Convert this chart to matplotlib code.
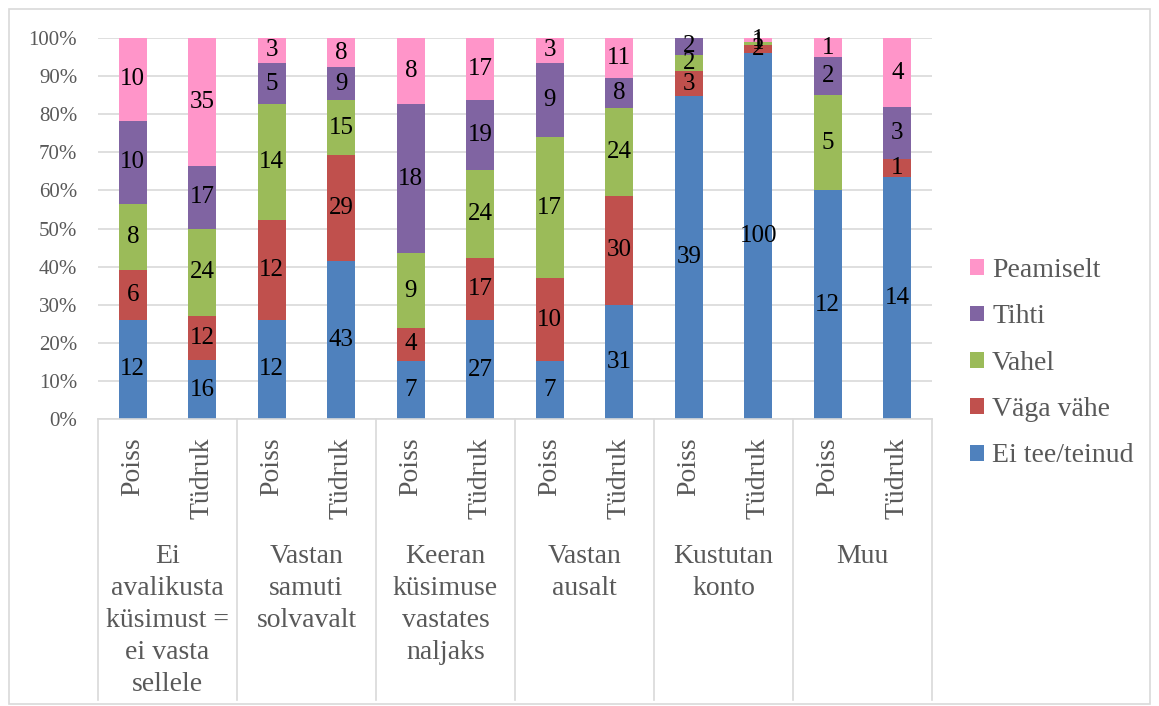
"""Stacked 100% bar chart: reactions to offensive questions, by gender."""

import numpy as np
import matplotlib.pyplot as plt
from matplotlib.patches import Rectangle

plt.rcParams["font.family"] = "serif"
plt.rcParams["font.serif"] = ["Liberation Serif", "Times New Roman", "DejaVu Serif"]

GROUPS = [
    "Ei\navalikusta\nküsimust =\nei vasta\nsellele",
    "Vastan\nsamuti\nsolvavalt",
    "Keeran\nküsimuse\nvastates\nnaljaks",
    "Vastan\nausalt",
    "Kustutan\nkonto",
    "Muu",
]
GENDERS = ["Poiss", "Tüdruk"]

SERIES = ["Ei tee/teinud", "Väga vähe", "Vahel", "Tihti", "Peamiselt"]
COLORS = ["#4F81BD", "#C0504D", "#9BBB59", "#8064A2", "#FF95C9"]

# counts per bar (Poiss, Tüdruk for each group in order)
ei_tee = [12, 16, 12, 43, 7, 27, 7, 31, 39, 100, 12, 14]
vaga_vahe = [6, 12, 12, 29, 4, 17, 10, 30, 3, 2, 0, 1]
vahel = [8, 24, 14, 15, 9, 24, 17, 24, 2, 1, 5, 0]
tihti = [10, 17, 5, 9, 18, 19, 9, 8, 2, 0, 2, 3]
peamiselt = [10, 35, 3, 8, 8, 17, 3, 11, 0, 1, 1, 4]

W, H = 1159, 706
GRAY = "#595959"
LINE = "#D9D9D9"

fig = plt.figure(figsize=(W / 100, H / 100), dpi=100)
fig.patches.append(Rectangle((9 / W, 2 / H), 1141 / W, 695 / H, transform=fig.transFigure,
                             fill=False, edgecolor=LINE, linewidth=1.2))

x0, x1, y0, y1 = 98, 932, 419, 38
ax = fig.add_axes([x0 / W, 1 - y0 / H, (x1 - x0) / W, (y0 - y1) / H])

counts = np.array([ei_tee, vaga_vahe, vahel, tihti, peamiselt], dtype=float)
totals = counts.sum(axis=0)
shares = counts / totals * 100
n = counts.shape[1]
xs = np.arange(n) + 0.5

bottom = np.zeros(n)
for name, color, vals, share in zip(SERIES, COLORS, counts, shares):
    ax.bar(xs, share, bottom=bottom, width=0.4, color=color, label=name, zorder=2)
    for x, b, s, v in zip(xs, bottom, share, vals):
        if v > 0:
            ax.text(x, b + s / 2, f"{int(v)}", ha="center", va="center",
                    fontsize=18, color="black", zorder=3)
    bottom += share

ax.set_xlim(0, n)
ax.set_ylim(0, 100)
ax.set_yticks(np.arange(0, 101, 10))
ax.set_yticklabels([f"{v}%" for v in range(0, 101, 10)])
ax.tick_params(axis="y", length=0, pad=15, labelsize=15, labelcolor=GRAY)
ax.set_xticks([])
ax.grid(axis="y", color=LINE, linewidth=1.2, zorder=0)
for side in ["left", "right", "top"]:
    ax.spines[side].set_visible(False)
ax.spines["bottom"].set_color(LINE)
ax.spines["bottom"].set_linewidth(1.2)

# multi-level category axis (x in data units, y in axes fraction)
tr = ax.get_xaxis_transform()
bot = (y0 - 700) / (y0 - y1)
for g in range(len(GROUPS) + 1):
    ax.plot([2 * g, 2 * g], [0, bot], color=LINE, linewidth=1.2, clip_on=False,
            zorder=1, transform=tr)
sub_top = -(437 - y0) / (y0 - y1)
grp_top = -(544 - y0) / (y0 - y1)
for i, x in enumerate(xs):
    ax.text(x, sub_top, GENDERS[i % 2], rotation=90, ha="center", va="top",
            fontsize=20, color=GRAY, transform=tr)
for g, label in enumerate(GROUPS):
    ax.text(2 * g + 1, grp_top, label, ha="center", va="top", multialignment="center",
            fontsize=20, color=GRAY, linespacing=1.37, transform=tr)

handles, labels = ax.get_legend_handles_labels()
fig.legend(handles[::-1], labels[::-1], loc="upper left",
           bbox_to_anchor=(956 / W, 1 - 244 / H), frameon=False, fontsize=20,
           labelcolor=GRAY, handlelength=0.5, handleheight=0.5, handletextpad=0.3,
           labelspacing=0.77, borderpad=0)

fig.savefig("out.png", dpi=100)
